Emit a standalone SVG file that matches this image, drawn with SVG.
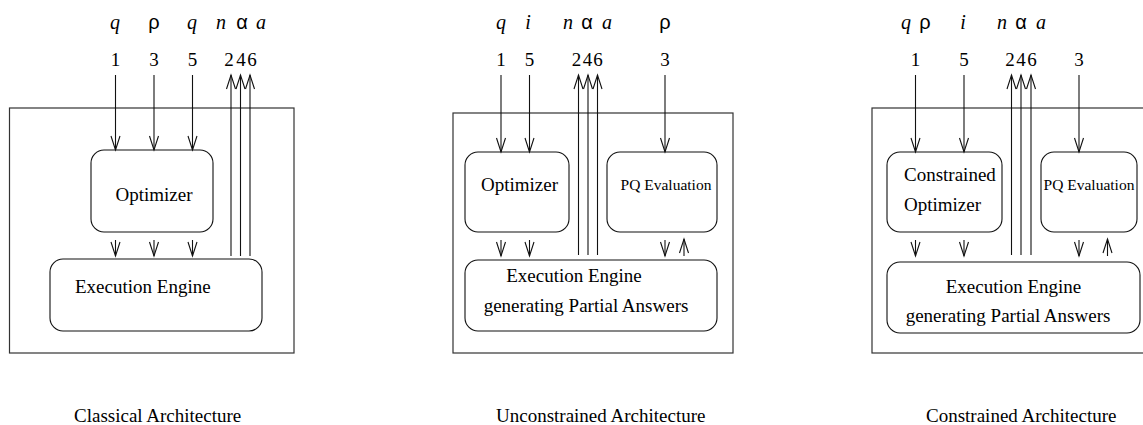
<svg xmlns="http://www.w3.org/2000/svg" width="1143" height="425" viewBox="0 0 1143 425">
  <style>
    .frame { fill: none; stroke: #333; stroke-width: 1.2; }
    .box { fill: none; stroke: #111; stroke-width: 1.1; }
    .wire { fill: none; stroke: #111; stroke-width: 1.1; }
    .t { font-family: "Liberation Serif", "Times New Roman", serif; font-size: 19px; fill: #000; }
    .small { font-size: 15.5px; }
    .it { font-family: "Liberation Serif", "Times New Roman", serif; font-style: italic; font-size: 20px; fill: #000; }
    .gr { font-family: "Liberation Sans", "DejaVu Sans", sans-serif; font-size: 20px; fill: #000; }
    .mid { text-anchor: middle; }
  </style>
  <defs>
    <marker id="head" markerUnits="userSpaceOnUse" markerWidth="20" markerHeight="12" viewBox="-15 -6 16 12" refX="0" refY="0" orient="auto">
      <path d="M-14,-4.5 L0,0 L-14,4.5" fill="none" stroke="#111" stroke-width="1.1"/>
    </marker>
  </defs>

  <!-- Classical architecture -->
  <g id="classical">
    <rect class="frame" x="9.5" y="108" width="284.5" height="245"/>
    <g class="it mid">
      <text x="115" y="29">q</text>
      <text x="192" y="29">q</text>
      <text x="221" y="29">n</text>
      <text x="261" y="29">a</text>
    </g>
    <g class="gr mid">
      <text x="154" y="29">ρ</text>
      <text x="242" y="29">α</text>
    </g>
    <g class="t mid">
      <text x="115.5" y="66">1</text>
      <text x="154" y="66">3</text>
      <text x="192.5" y="66">5</text>
      <text x="229" y="66">2</text>
      <text x="241" y="66">4</text>
      <text x="252" y="66">6</text>
    </g>
  </g>
  <g id="classical-optimizer">
    <rect class="box" x="91" y="150" width="122" height="82" rx="13"/>
    <text class="t mid" x="154" y="201">Optimizer</text>
  </g>
  <g id="classical-engine">
    <rect class="box" x="50" y="259" width="212" height="72" rx="13"/>
    <text class="t" x="75" y="293">Execution Engine</text>
  </g>

  <!-- Unconstrained architecture -->
  <g id="unconstrained">
    <rect class="frame" x="453" y="113" width="280" height="240"/>
    <g class="it mid">
      <text x="501" y="29">q</text>
      <text x="528" y="29">i</text>
      <text x="568" y="29">n</text>
      <text x="607" y="29">a</text>
    </g>
    <g class="gr mid">
      <text x="587" y="29">α</text>
      <text x="665" y="29">ρ</text>
    </g>
    <g class="t mid">
      <text x="501" y="66">1</text>
      <text x="529.5" y="66">5</text>
      <text x="576.5" y="66">2</text>
      <text x="587.5" y="66">4</text>
      <text x="598" y="66">6</text>
      <text x="665" y="66">3</text>
    </g>
  </g>
  <g id="unconstrained-optimizer">
    <rect class="box" x="465" y="152" width="104" height="80" rx="13"/>
    <text class="t mid" x="519.5" y="191">Optimizer</text>
  </g>
  <g id="unconstrained-pq">
    <rect class="box" x="607" y="152" width="110" height="80" rx="13"/>
    <text class="t small mid" x="666" y="190">PQ Evaluation</text>
  </g>
  <g id="unconstrained-engine">
    <rect class="box" x="465" y="260" width="252" height="71" rx="13"/>
    <text class="t mid" x="574" y="282">Execution Engine</text>
    <text class="t mid" x="586" y="312">generating Partial Answers</text>
  </g>

  <!-- Constrained architecture -->
  <g id="constrained">
    <rect class="frame" x="872" y="108" width="290" height="245"/>
    <g class="it mid">
      <text x="906" y="29">q</text>
      <text x="963" y="29">i</text>
      <text x="1002" y="29">n</text>
      <text x="1041" y="29">a</text>
    </g>
    <g class="gr mid">
      <text x="925" y="29">ρ</text>
      <text x="1021" y="29">α</text>
    </g>
    <g class="t mid">
      <text x="915.5" y="66">1</text>
      <text x="964" y="66">5</text>
      <text x="1010" y="66">2</text>
      <text x="1021" y="66">4</text>
      <text x="1032" y="66">6</text>
      <text x="1079" y="66">3</text>
    </g>
  </g>
  <g id="constrained-optimizer">
    <rect class="box" x="887" y="152" width="115" height="80" rx="13"/>
    <text class="t" x="904" y="181">Constrained</text>
    <text class="t" x="904" y="210.5">Optimizer</text>
  </g>
  <g id="constrained-pq">
    <rect class="box" x="1041" y="152" width="96" height="80" rx="13"/>
    <text class="t small mid" x="1089" y="190">PQ Evaluation</text>
  </g>
  <g id="constrained-engine">
    <rect class="box" x="887" y="262" width="253" height="71" rx="13"/>
    <text class="t mid" x="1013.5" y="293">Execution Engine</text>
    <text class="t mid" x="1008" y="322">generating Partial Answers</text>
  </g>

  <!-- Captions -->
  <g class="t">
    <text x="74" y="422">Classical Architecture</text>
    <text x="496" y="422">Unconstrained Architecture</text>
    <text x="926" y="422">Constrained Architecture</text>
  </g>

  <!-- Connectors -->
  <g id="connectors" class="wire" marker-end="url(#head)">
    <!-- classical: inputs, outputs, optimizer to engine -->
    <line x1="115.5" y1="75" x2="115.5" y2="150"/>
    <line x1="154" y1="75" x2="154" y2="150"/>
    <line x1="192.5" y1="75" x2="192.5" y2="150"/>
    <line x1="231" y1="256" x2="231" y2="75"/>
    <line x1="240.5" y1="256" x2="240.5" y2="75"/>
    <line x1="250" y1="256" x2="250" y2="75"/>
    <line x1="115.5" y1="240" x2="115.5" y2="256"/>
    <line x1="154" y1="240" x2="154" y2="256"/>
    <line x1="192.5" y1="240" x2="192.5" y2="256"/>

    <!-- unconstrained -->
    <line x1="501" y1="75" x2="501" y2="152"/>
    <line x1="529.5" y1="75" x2="529.5" y2="152"/>
    <line x1="665" y1="75" x2="665" y2="152"/>
    <line x1="578.5" y1="255" x2="578.5" y2="75"/>
    <line x1="588" y1="255" x2="588" y2="75"/>
    <line x1="597.5" y1="255" x2="597.5" y2="75"/>
    <line x1="501" y1="240" x2="501" y2="256"/>
    <line x1="529.5" y1="240" x2="529.5" y2="256"/>
    <line x1="665" y1="240" x2="665" y2="256"/>
    <line x1="684" y1="256" x2="684" y2="239"/>

    <!-- constrained -->
    <line x1="915.5" y1="75" x2="915.5" y2="152"/>
    <line x1="964" y1="75" x2="964" y2="152"/>
    <line x1="1079" y1="75" x2="1079" y2="152"/>
    <line x1="1011.5" y1="255" x2="1011.5" y2="75"/>
    <line x1="1021" y1="255" x2="1021" y2="75"/>
    <line x1="1031" y1="255" x2="1031" y2="75"/>
    <line x1="915.5" y1="240" x2="915.5" y2="256"/>
    <line x1="964" y1="240" x2="964" y2="256"/>
    <line x1="1079" y1="240" x2="1079" y2="256"/>
    <line x1="1107.5" y1="256" x2="1107.5" y2="239"/>
  </g>
</svg>
